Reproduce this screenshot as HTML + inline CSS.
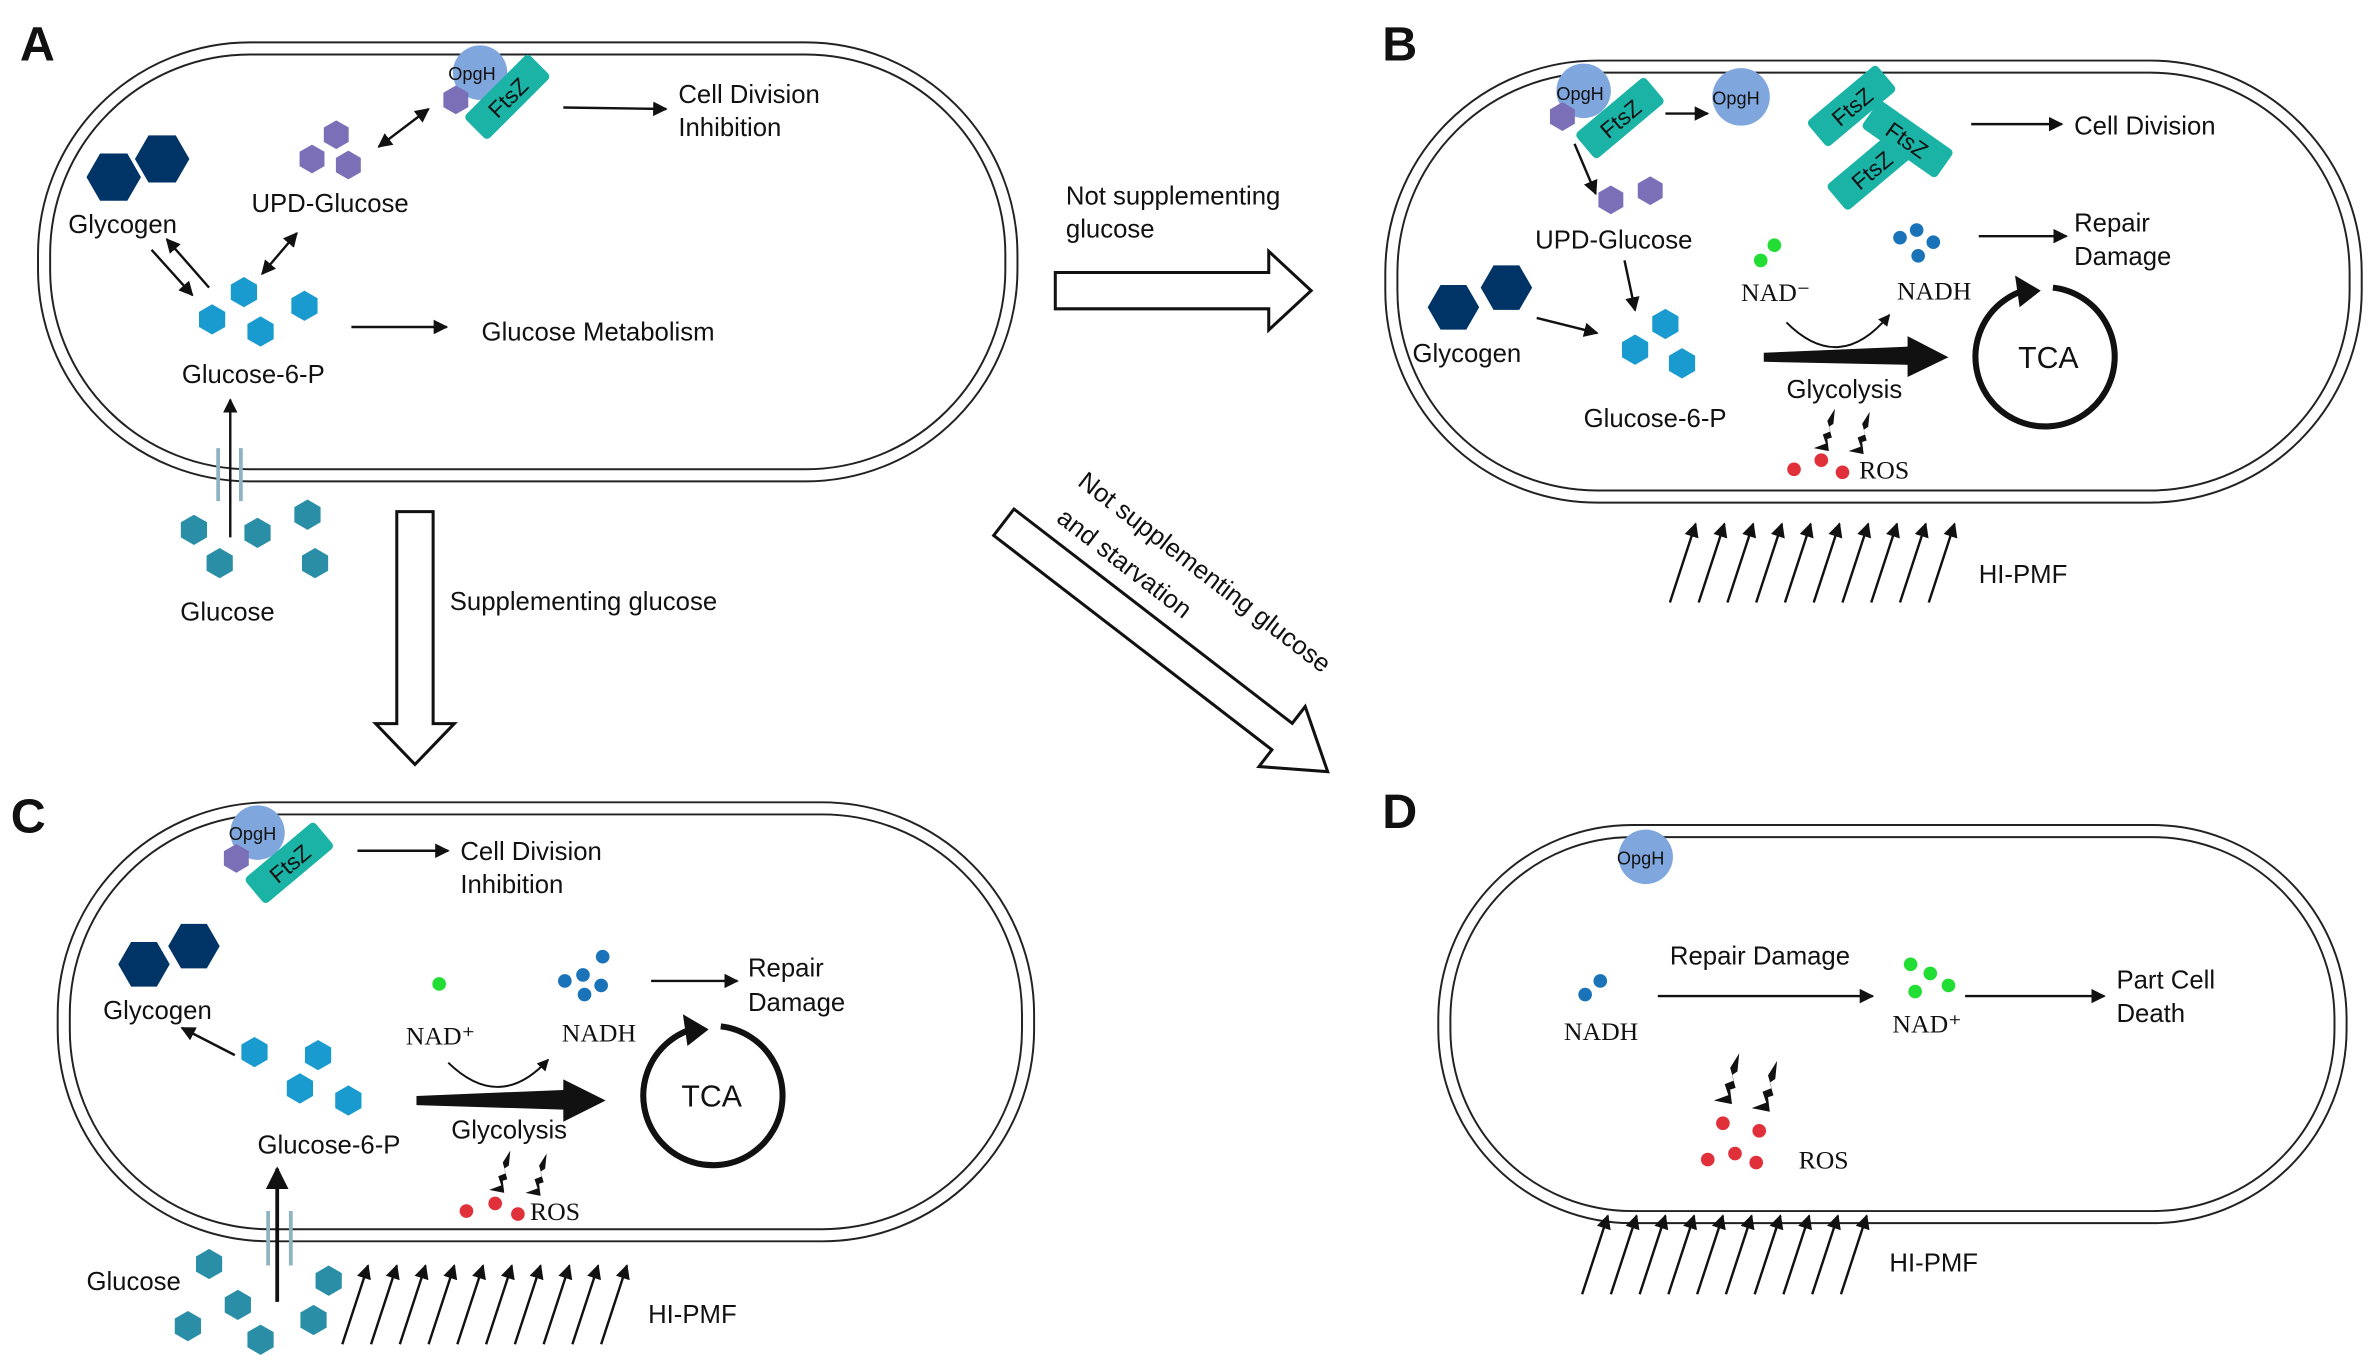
<!DOCTYPE html>
<html><head><meta charset="utf-8"><style>
html,body{margin:0;padding:0;background:#fff;}
svg{display:block;}
text{font-family:"Liberation Sans",Arial,sans-serif;font-size:17px;fill:#111;}
.s{font-family:"Liberation Serif",serif;font-size:17px;}
.L{font-weight:bold;font-size:32px;}
</style></head><body>
<svg width="2374" height="1370" viewBox="0 0 1568 905" xmlns="http://www.w3.org/2000/svg">
<defs>
<marker id="a" viewBox="0 0 10 10" refX="9" refY="5" markerWidth="6" markerHeight="6" orient="auto-start-reverse"><path d="M0,0 L10,5 L0,10 z" fill="#111"/></marker>
<path id="hp" d="M0,-10 L8.66,-5 L8.66,5 L0,10 L-8.66,5 L-8.66,-5 Z"/>
<path id="hf" d="M-10,0 L-5,-8.66 L5,-8.66 L10,0 L5,8.66 L-5,8.66 Z"/>
<path id="bolt" d="M-5,0 L3,-3 L1,-9 L6,-11 L4,-18 L9,-26 L8,-16 L5,-14 L7,-7 L4,-6 L5,2 Z" fill="#111"/>
<g id="pmf" stroke="#111" stroke-width="1.6" fill="none" marker-end="url(#a)">
<line x1="0" y1="52" x2="17" y2="0"/><line x1="19" y1="52" x2="36" y2="0"/><line x1="38" y1="52" x2="55" y2="0"/><line x1="57" y1="52" x2="74" y2="0"/><line x1="76" y1="52" x2="93" y2="0"/><line x1="95" y1="52" x2="112" y2="0"/><line x1="114" y1="52" x2="131" y2="0"/><line x1="133" y1="52" x2="150" y2="0"/><line x1="152" y1="52" x2="169" y2="0"/><line x1="171" y1="52" x2="188" y2="0"/>
</g>
<g id="ftsz"><rect x="-30" y="-11" width="60" height="22" rx="3" fill="#1ab3a6"/><text x="0" y="6" text-anchor="middle" style="font-size:15px">FtsZ</text></g>
</defs>

<g fill="none" stroke="#222" stroke-width="1.3">
<rect x="25" y="28" width="647" height="290" rx="140"/><rect x="33" y="36" width="631" height="274" rx="132"/>
<rect x="915" y="40" width="645" height="292" rx="140"/><rect x="923" y="48" width="629" height="276" rx="132"/>
<rect x="38" y="530" width="645" height="290" rx="140"/><rect x="46" y="538" width="629" height="274" rx="132"/>
<rect x="950" y="545" width="600" height="263" rx="128"/><rect x="958" y="553" width="584" height="247" rx="120"/>
</g>
<text class="L" x="13" y="40">A</text><text class="L" x="913" y="40">B</text><text class="L" x="7" y="550">C</text><text class="L" x="913" y="547">D</text>

<!-- Panel A -->
<use href="#hf" transform="translate(75,117) scale(1.8)" fill="#003366"/>
<use href="#hf" transform="translate(107,105) scale(1.8)" fill="#003366"/>
<text x="45" y="154">Glycogen</text>
<g fill="#7b6fb8"><use href="#hp" transform="translate(222,89) scale(0.95)"/><use href="#hp" transform="translate(206,105) scale(0.95)"/><use href="#hp" transform="translate(230,109) scale(0.95)"/></g>
<text x="166" y="140">UPD-Glucose</text>
<circle cx="317" cy="48" r="18" fill="#7fa6dd"/>
<use href="#hp" transform="translate(301,66) scale(0.95)" fill="#7b6fb8"/>
<use href="#ftsz" transform="translate(335,64) rotate(-45)"/>
<text x="296" y="53" style="font-size:12px">OpgH</text>
<g stroke="#111" stroke-width="1.6" fill="none">
<line x1="250" y1="97" x2="283" y2="72" marker-start="url(#a)" marker-end="url(#a)"/>
<line x1="372" y1="71" x2="440" y2="72" marker-end="url(#a)"/>
<line x1="100" y1="165" x2="127" y2="195" marker-end="url(#a)"/>
<line x1="138" y1="190" x2="110" y2="158" marker-end="url(#a)"/>
<line x1="196" y1="154" x2="173" y2="181" marker-start="url(#a)" marker-end="url(#a)"/>
<line x1="232" y1="216" x2="295" y2="216" marker-end="url(#a)"/>
<line x1="152" y1="355" x2="152" y2="264" marker-end="url(#a)"/>
</g>
<text x="448" y="68">Cell Division</text><text x="448" y="90">Inhibition</text>
<g fill="#1a9bd0"><use href="#hp" transform="translate(161,193)"/><use href="#hp" transform="translate(140,211)"/><use href="#hp" transform="translate(172,219)"/><use href="#hp" transform="translate(201,202)"/></g>
<text x="120" y="253">Glucose-6-P</text>
<text x="318" y="225">Glucose Metabolism</text>
<g stroke="#8fb3c0" stroke-width="2.5"><line x1="144" y1="296" x2="144" y2="331"/><line x1="159" y1="296" x2="159" y2="331"/></g>
<g fill="#2a8fa6"><use href="#hp" transform="translate(128,350)"/><use href="#hp" transform="translate(170,352)"/><use href="#hp" transform="translate(203,340)"/><use href="#hp" transform="translate(145,372)"/><use href="#hp" transform="translate(208,372)"/></g>
<text x="119" y="410">Glucose</text>

<g fill="#fff" stroke="#111" stroke-width="2">
<path d="M262,338 L286,338 L286,478 L300,478 L274,505 L248,478 L262,478 Z"/>
<path d="M697,180 L838,180 L838,166 L866,192 L838,218 L838,204 L697,204 Z"/>
<path transform="translate(663,345) rotate(37.6)" d="M0,-11 L232,-11 L232,-25 L270,0 L232,25 L232,11 L0,11 Z"/>
</g>
<text x="297" y="403">Supplementing glucose</text>
<text x="704" y="135">Not supplementing</text><text x="704" y="157">glucose</text>
<text transform="translate(711,320) rotate(37.6)">Not supplementing glucose</text>
<text transform="translate(697,344) rotate(37.6)">and starvation</text>

<!-- Panel B -->
<circle cx="1046" cy="60" r="18" fill="#7fa6dd"/>
<use href="#hp" transform="translate(1032,77) scale(0.95)" fill="#7b6fb8"/>
<use href="#ftsz" transform="translate(1070,78) rotate(-40)"/>
<text x="1028" y="66" style="font-size:12px">OpgH</text>
<circle cx="1150" cy="64" r="19" fill="#7fa6dd"/><text x="1131" y="69" style="font-size:12px">OpgH</text>
<use href="#ftsz" transform="translate(1223,70) rotate(-40)"/>
<use href="#ftsz" transform="translate(1236,112) rotate(-40)"/>
<use href="#ftsz" transform="translate(1260,92) rotate(35)"/>
<g stroke="#111" stroke-width="1.6" fill="none">
<line x1="1100" y1="75" x2="1128" y2="75" marker-end="url(#a)"/>
<line x1="1302" y1="82" x2="1362" y2="82" marker-end="url(#a)"/>
<line x1="1040" y1="95" x2="1054" y2="128" marker-end="url(#a)"/>
<line x1="1073" y1="172" x2="1080" y2="205" marker-end="url(#a)"/>
<line x1="1015" y1="210" x2="1055" y2="220" marker-end="url(#a)"/>
<line x1="1307" y1="156" x2="1365" y2="156" marker-end="url(#a)"/>
<path d="M1180,213 Q1215,248 1248,208" marker-end="url(#a)" stroke-width="1.3"/>
<path d="M1340,191 A46,46 0 1 0 1356,190" stroke-width="4"/>
</g>
<path d="M1331,182 L1348,192 L1334,203 Z" fill="#111"/>
<text x="1370" y="89">Cell Division</text>
<g fill="#7b6fb8"><use href="#hp" transform="translate(1064,132) scale(0.95)"/><use href="#hp" transform="translate(1090,126) scale(0.95)"/></g>
<text x="1014" y="164">UPD-Glucose</text>
<use href="#hf" transform="translate(960,203) scale(1.7)" fill="#003366"/>
<use href="#hf" transform="translate(995,190) scale(1.7)" fill="#003366"/>
<text x="933" y="239">Glycogen</text>
<g fill="#1a9bd0"><use href="#hp" transform="translate(1100,214)"/><use href="#hp" transform="translate(1080,231)"/><use href="#hp" transform="translate(1111,240)"/></g>
<text x="1046" y="282">Glucose-6-P</text>
<g fill="#22dd33"><circle cx="1163" cy="172" r="4.5"/><circle cx="1172" cy="162" r="4.5"/></g>
<text class="s" x="1150" y="199">NAD⁻</text>
<g fill="#1a73b8"><circle cx="1255" cy="157" r="4.5"/><circle cx="1266" cy="152" r="4.5"/><circle cx="1277" cy="160" r="4.5"/><circle cx="1267" cy="169" r="4.5"/></g>
<text class="s" x="1253" y="198">NADH</text>
<text x="1370" y="153">Repair</text><text x="1370" y="175">Damage</text>
<path d="M1165,233 L1260,229 L1260,222 L1287,236 L1260,249 L1260,241 L1165,239 Z" fill="#111"/>
<text x="1180" y="263">Glycolysis</text>
<text x="1333" y="243" style="font-size:20px">TCA</text>
<use href="#bolt" transform="translate(1203,296)"/><use href="#bolt" transform="translate(1226,298)"/>
<g fill="#e0303a"><circle cx="1185" cy="310" r="4.5"/><circle cx="1203" cy="304" r="4.5"/><circle cx="1217" cy="312" r="4.5"/></g>
<text class="s" x="1228" y="316">ROS</text>
<use href="#pmf" transform="translate(1103,346)"/>
<text x="1307" y="385">HI-PMF</text>

<!-- Panel C -->
<circle cx="170" cy="550" r="18" fill="#7fa6dd"/>
<use href="#hp" transform="translate(156,567) scale(0.95)" fill="#7b6fb8"/>
<use href="#ftsz" transform="translate(191,570) rotate(-40)"/>
<text x="151" y="555" style="font-size:12px">OpgH</text>
<g stroke="#111" stroke-width="1.6" fill="none">
<line x1="236" y1="562" x2="296" y2="562" marker-end="url(#a)"/>
<line x1="155" y1="697" x2="120" y2="679" marker-end="url(#a)"/>
<line x1="430" y1="648" x2="487" y2="648" marker-end="url(#a)"/>
<path d="M296,702 Q330,735 362,700" marker-end="url(#a)" stroke-width="1.3"/>
<path d="M460,679 A46,46 0 1 0 476,678" stroke-width="4"/>
</g>
<path d="M451,670 L468,680 L454,691 Z" fill="#111"/>
<g stroke="#111" stroke-width="2.5" fill="none"><line x1="183" y1="860" x2="183" y2="772" marker-end="url(#a)"/></g>
<text x="304" y="568">Cell Division</text><text x="304" y="590">Inhibition</text>
<use href="#hf" transform="translate(95,637) scale(1.7)" fill="#003366"/>
<use href="#hf" transform="translate(128,625) scale(1.7)" fill="#003366"/>
<text x="68" y="673">Glycogen</text>
<g fill="#1a9bd0"><use href="#hp" transform="translate(168,695)"/><use href="#hp" transform="translate(210,697)"/><use href="#hp" transform="translate(198,719)"/><use href="#hp" transform="translate(230,727)"/></g>
<text x="170" y="762">Glucose-6-P</text>
<circle cx="290" cy="650" r="4.5" fill="#22dd33"/>
<text class="s" x="268" y="690">NAD⁺</text>
<g fill="#1a73b8"><circle cx="373" cy="648" r="4.5"/><circle cx="385" cy="644" r="4.5"/><circle cx="398" cy="632" r="4.5"/><circle cx="386" cy="657" r="4.5"/><circle cx="397" cy="651" r="4.5"/></g>
<text class="s" x="371" y="688">NADH</text>
<text x="494" y="645">Repair</text><text x="494" y="668">Damage</text>
<path d="M275,724 L372,720 L372,713 L400,727 L372,741 L372,733 L275,730 Z" fill="#111"/>
<text x="298" y="752">Glycolysis</text>
<text x="450" y="731" style="font-size:20px">TCA</text>
<use href="#bolt" transform="translate(328,786)"/><use href="#bolt" transform="translate(352,788)"/>
<g fill="#e0303a"><circle cx="308" cy="800" r="4.5"/><circle cx="327" cy="795" r="4.5"/><circle cx="342" cy="802" r="4.5"/></g>
<text class="s" x="350" y="806">ROS</text>
<g stroke="#8fb3c0" stroke-width="2.5"><line x1="177" y1="800" x2="177" y2="836"/><line x1="192" y1="800" x2="192" y2="836"/></g>
<g fill="#2a8fa6"><use href="#hp" transform="translate(138,835)"/><use href="#hp" transform="translate(124,876)"/><use href="#hp" transform="translate(157,862)"/><use href="#hp" transform="translate(172,885)"/><use href="#hp" transform="translate(217,846)"/><use href="#hp" transform="translate(207,872)"/></g>
<text x="57" y="852">Glucose</text>
<use href="#pmf" transform="translate(226,836)"/>
<text x="428" y="874">HI-PMF</text>

<!-- Panel D -->
<circle cx="1087" cy="566" r="18" fill="#7fa6dd"/><text x="1068" y="571" style="font-size:12px">OpgH</text>
<g fill="#1a73b8"><circle cx="1047" cy="657" r="4.5"/><circle cx="1057" cy="648" r="4.5"/></g>
<text class="s" x="1033" y="687">NADH</text>
<g stroke="#111" stroke-width="1.6" fill="none">
<line x1="1095" y1="658" x2="1237" y2="658" marker-end="url(#a)"/>
<line x1="1298" y1="658" x2="1390" y2="658" marker-end="url(#a)"/>
</g>
<text x="1103" y="637">Repair Damage</text>
<g fill="#22dd33"><circle cx="1262" cy="637" r="4.5"/><circle cx="1275" cy="643" r="4.5"/><circle cx="1287" cy="651" r="4.5"/><circle cx="1265" cy="655" r="4.5"/></g>
<text class="s" x="1250" y="682">NAD⁺</text>
<text x="1398" y="653">Part Cell</text><text x="1398" y="675">Death</text>
<use href="#bolt" transform="translate(1138,727) scale(1.2)"/><use href="#bolt" transform="translate(1163,732) scale(1.2)"/>
<g fill="#e0303a"><circle cx="1138" cy="742" r="4.5"/><circle cx="1162" cy="747" r="4.5"/><circle cx="1128" cy="766" r="4.5"/><circle cx="1146" cy="762" r="4.5"/><circle cx="1160" cy="768" r="4.5"/></g>
<text class="s" x="1188" y="772">ROS</text>
<use href="#pmf" transform="translate(1045,803)"/>
<text x="1248" y="840">HI-PMF</text>
</svg>
</body></html>
